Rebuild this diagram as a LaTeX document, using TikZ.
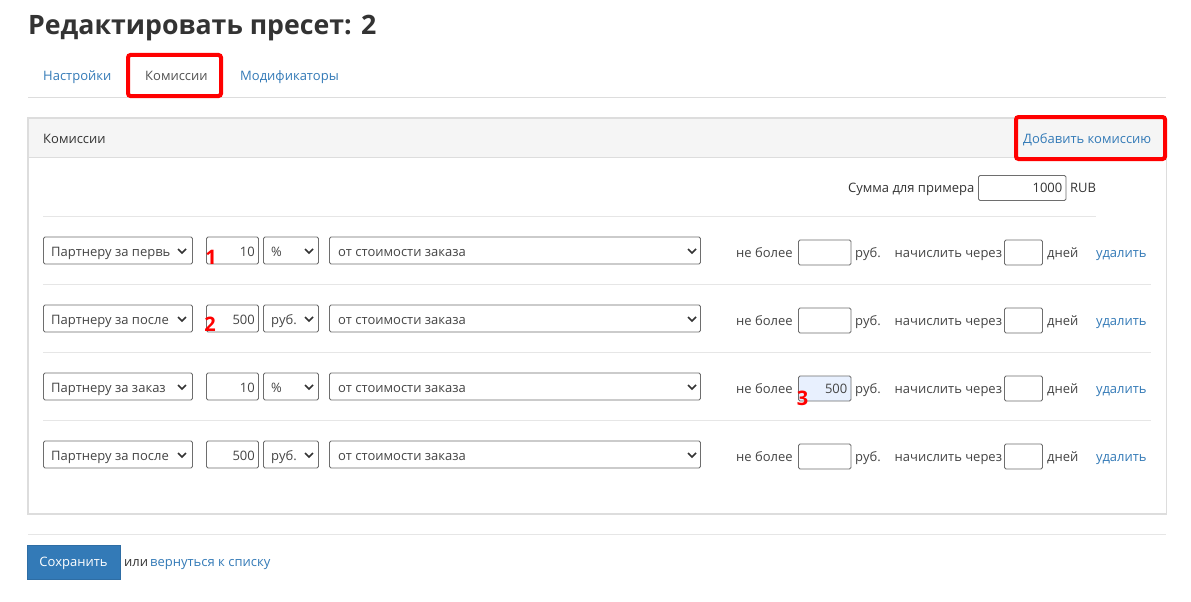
\documentclass[tikz,border=0pt]{standalone}
\usepackage{fontspec}
\setmainfont{Open Sans}
\definecolor{linkblue}{HTML}{337AB7}
\definecolor{txt}{HTML}{333333}
\definecolor{lbl}{HTML}{444444}
\definecolor{boxc}{HTML}{6E6E6E}
\definecolor{sepc}{HTML}{E6E6E6}
\definecolor{panelc}{HTML}{DDDDDD}
\definecolor{headbg}{HTML}{F5F5F5}
\definecolor{limbg}{HTML}{E8F0FE}
\definecolor{marker}{HTML}{FF0000}
\definecolor{btnc}{HTML}{337AB7}
\definecolor{btnb}{HTML}{2E6DA4}
\tikzset{
  ui/.style={font=\fontsize{13}{15}\selectfont, inner sep=0pt, anchor=base west, text=lbl},
  uiright/.style={ui, anchor=base east},
  link/.style={ui, text=linkblue},
  inbox/.style={draw=boxc, line width=0.9pt, rounded corners=1.5pt},
  chev/.style={draw=txt, line width=1.7pt},
  redframe/.style={draw=marker, line width=4pt, rounded corners=2.5pt},
  numlabel/.style={font=\fontsize{20}{22}\selectfont\bfseries, text=marker, inner sep=0pt},
  sep/.style={draw=sepc, line width=1pt}
}
\begin{document}
\begin{tikzpicture}[x=1pt,y=-1pt]
\useasboundingbox[fill=white] (0,0) rectangle (1191,602);
% title
\node[ui, font=\fontsize{26.7}{30}\selectfont\bfseries, text=txt] (title) at (28,35) {Редактировать пресет: 2};
% tabs
\node[link] (tab1) at (43,81) {Настройки};
\node[ui, text=txt!85] (tab2) at (145,81) {Комиссии};
\node[link] (tab3) at (240,81) {Модификаторы};
\coordinate (tl1) at (28,97.5);
\coordinate (tl2) at (1166,97.5);
\draw[draw=panelc, line width=1pt] (tl1) -- (tl2);
% panel
\path[fill=headbg] (28,118) rectangle (1166.5,157);
\draw[draw=panelc, line width=1pt] (28,157) -- (1166.5,157);
\draw[draw=panelc, line width=1.2pt] (28,118) rectangle (1166.5,514);
\node[ui, text=txt] (phead) at (43,143) {Комиссии};
\node[link] (addc) at (1023,143) {Добавить комиссию};
% example sum
\node[uiright, text=txt] (sumlbl) at (974.5,192) {Сумма для примера};
\draw[inbox] (978.5,175.5) rectangle (1066,200.5);
\node[uiright, text=txt] (sumval) at (1062.5,192) {1000};
\node[ui, text=txt] (rub) at (1070,192) {RUB};
\draw[sep] (43,216.5) -- (1096,216.5);
% rows
\foreach \yc/\sel/\val/\unit/\lim/\bg [count=\i] in {
  251/{Партнеру за первь}/10/{\%}/{}/white,
  319/{Партнеру за после}/500/{руб.}/{}/white,
  387/{Партнеру за заказ}/10/{\%}/500/limbg,
  455/{Партнеру за после}/500/{руб.}/{}/white}{
  % select kind
  \draw[inbox] (43.5,\yc-14) rectangle (192.5,\yc+13);
  \node[ui] (sel\i) at (51,\yc+5) {\sel};
  \draw[chev] (178,\yc-2) -- (182,\yc+2) -- (186,\yc-2);
  % value
  \draw[inbox] (206.5,\yc-14) rectangle (258.5,\yc+13);
  \node[uiright] (val\i) at (255,\yc+5) {\val};
  % unit
  \draw[inbox] (263.5,\yc-14) rectangle (318.5,\yc+13);
  \node[ui] (unit\i) at (271,\yc+5) {\unit};
  \draw[chev] (305,\yc-2) -- (309,\yc+2) -- (313,\yc-2);
  % base
  \draw[inbox] (329.5,\yc-14) rectangle (700.5,\yc+13);
  \node[ui] (base\i) at (338,\yc+5) {от стоимости заказа};
  \draw[chev] (688,\yc-2) -- (692,\yc+2) -- (696,\yc-2);
  % limit
  \node[ui] (nb\i) at (736,\yc+6) {не более};
  \draw[inbox, fill=\bg] (798.5,\yc-11) rectangle (851,\yc+14);
  \node[uiright] (lim\i) at (847.5,\yc+6) {\lim};
  \node[ui] (rb\i) at (855,\yc+6) {руб.};
  \node[ui] (nc\i) at (894.5,\yc+6) {начислить через};
  \draw[inbox] (1004.5,\yc-11) rectangle (1042.5,\yc+14);
  \node[ui] (dn\i) at (1047,\yc+6) {дней};
  \node[link] (del\i) at (1096,\yc+6) {удалить};
}
\foreach \ys in {284.5,352.5,420.5}{
  \draw[sep] (43,\ys) -- (1151,\ys);
}
% markers
\node[numlabel] (m1) at (211,257) {1};
\node[numlabel] (m2) at (210,324.5) {2};
\node[numlabel] (m3) at (802.5,398) {3};
% red frames
\draw[redframe] (128,55) rectangle (221,96);
\draw[redframe] (1016,117) rectangle (1165,159);
% footer
\draw[draw=sepc, line width=1pt] (28,534.5) -- (1166,534.5);
\draw[fill=btnc, draw=btnb, line width=0.8pt] (27,545) rectangle (120,579);
\node[ui, text=white, anchor=base] (save) at (73.5,566) {Сохранить};
\node[ui, text=txt] (ili) at (124,566) {или};
\node[link] (back) at (150,566) {вернуться к списку};
\end{tikzpicture}
\end{document}
